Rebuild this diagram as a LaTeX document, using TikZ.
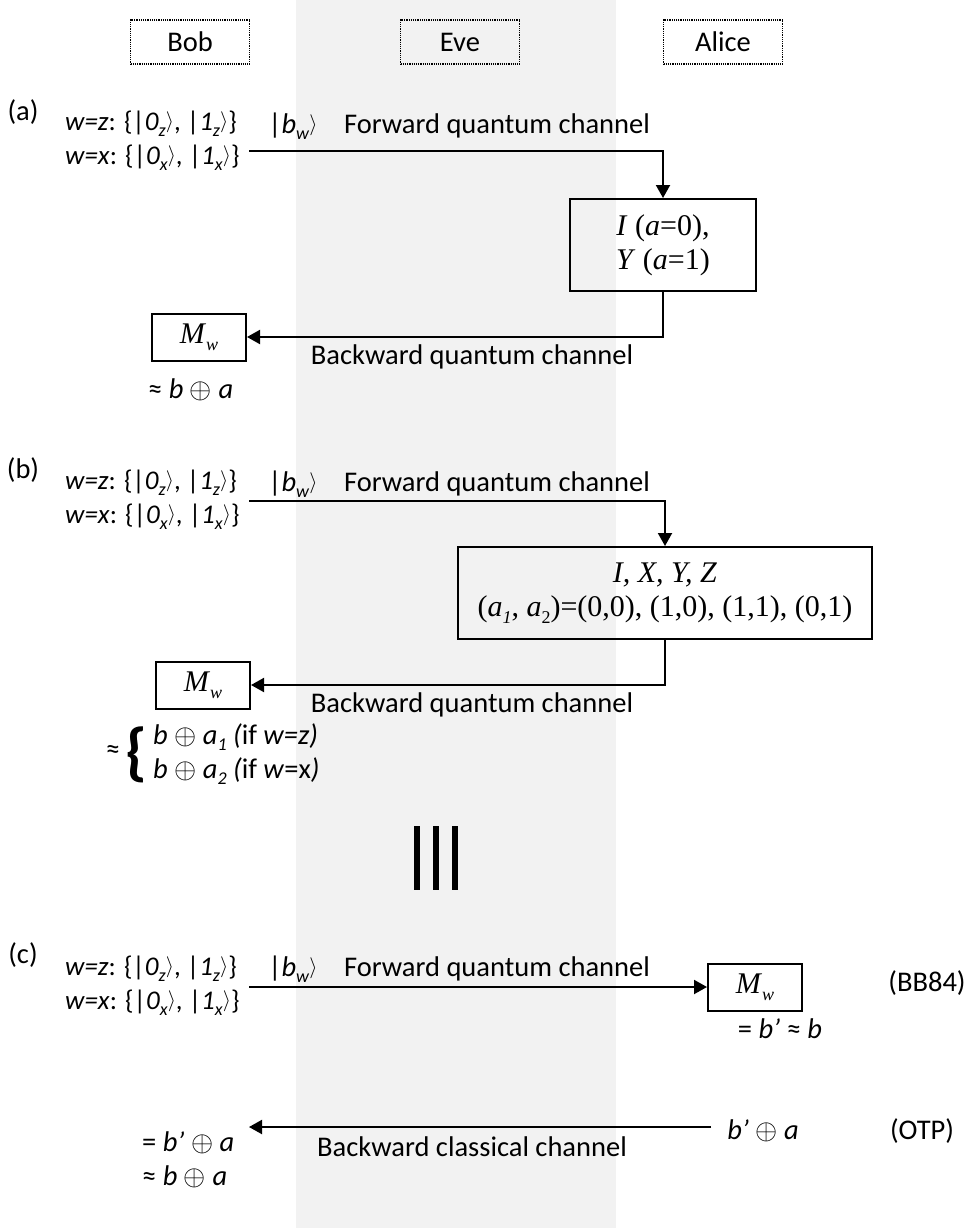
\RequirePackage{fix-cm}
\documentclass[tikz,border=0pt]{standalone}
\usepackage{fontspec}
\setmainfont{Carlito}
\newfontfamily\tnr{Liberation Serif}
\usetikzlibrary{arrows.meta,positioning}
\definecolor{evegray}{HTML}{F2F2F2}

\newcommand{\sbs}[1]{\raisebox{-0.22em}{\fontsize{18}{18}\selectfont #1}}
\newcommand{\kt}{\raisebox{3pt}{\fontsize{21}{21}\selectfont$\rangle$}}
\newcommand{\bases}{\textit{w=z}: \{|\textit{0}\sbs{\textit{z}}\kt, |\textit{1}\sbs{\textit{z}}\kt\}\\
  \textit{w=x}: \{|\textit{0}\sbs{\textit{x}}\kt, |\textit{1}\sbs{\textit{x}}\kt\}}
\newcommand{\ketbw}{|\textit{b}\sbs{\textit{w}}\kt}
\newcommand{\meas}{\textit{M}\sbs{\textit{w}}}

\begin{document}
\begin{tikzpicture}[x=1pt,y=-1pt,
    every node/.style={font=\fontsize{28.5}{34}\selectfont, inner sep=0pt}]
	\tikzstyle{party}
	  =[draw, densely dotted, line width=1.2pt,
	  minimum width=119pt, minimum height=44pt,
	  text height=19pt, text depth=0pt]
	\tikzstyle{opbox}
	  =[draw, line width=2pt, minimum height=92pt,
	  align=center, font=\fontsize{30}{34}\selectfont\tnr]
	\tikzstyle{measbox}
	  =[draw, line width=2pt, minimum width=94pt,
	  minimum height=47pt, font=\fontsize{30}{34}\selectfont\tnr]
	\tikzstyle{twoline}
	  =[align=left, anchor=west]
	\tikzstyle{basis}
	  =[align=left, anchor=west, font=\fontsize{27}{34}\selectfont]
	\tikzstyle{arr}
	  =[line width=2pt, -{Triangle[length=13pt,width=14pt]}]

	\useasboundingbox (0,0) rectangle (971,1228);
	\fill[evegray] (296,0) rectangle (616,1228);

	\node[party] (bob) at (190,42) {Bob};
	\node[party] (eve) at (460,42) {Eve};
	\node[party] (alice) at (723,42) {Alice};

	% (a)
	\node (labA) at (23,112) {(a)};
	\node[basis] (basA) at (65,141) {\bases};
	\node (ketA) at (293,126) {\ketbw};
	\node (fwdA) at (497,126) {Forward quantum channel};
	\coordinate (inA) at (249,151);
	\node[opbox, minimum width=186pt] (opA) at (663,245)
	  {\textit{I} (\textit{a}=0),\\ \textit{Y} (\textit{a}=1)};
	\node[measbox] (measA) at (199,337) {\meas};
	\node (bwdA) at (472,357) {Backward quantum channel};
	\node[anchor=west] (resA) at (148,390)
	  {≈ \textit{b} $\oplus$ \textit{a}};

	\draw[arr] (inA) -| (opA);
	\draw[arr] (opA) |- (measA);

	% (b)
	\node (labB) at (23,470) {(b)};
	\node[basis] (basB) at (65,500) {\bases};
	\node (ketB) at (293,484) {\ketbw};
	\node (fwdB) at (497,484) {Forward quantum channel};
	\coordinate (inB) at (249,501);
	\node[opbox, minimum width=414pt] (opB) at (665,593)
	  {\textit{I, X, Y, Z}\\
	  (\textit{a}\sbs{\textit{1}}, \textit{a}\sbs{2})=(0,0), (1,0), (1,1), (0,1)};
	\node[measbox] (measB) at (203,685) {\meas};
	\node (bwdB) at (472,705) {Backward quantum channel};
	\node (apxB) at (113,752) {≈};
	\node (brB) at (136,755)
	  {\fontsize{64}{64}\selectfont\textbf{\{}};
	\node[twoline] (resB) at (153,754)
	  {\textit{b} $\oplus$ \textit{a}\sbs{\textit{1}} \textit{(}if \textit{w=z)}\\
	  \textit{b} $\oplus$ \textit{a}\sbs{\textit{2}} \textit{(}if \textit{w}=x\textit{)}};

	\draw[arr] (inB) -| (opB);
	\draw[arr] (opB) |- (measB);

	% equivalence
	\foreach \x in {417,436,455}
	  \draw[line width=6pt] (\x,826) -- (\x,890);

	% (c)
	\node (labC) at (23,955) {(c)};
	\node[basis] (basC) at (65,986) {\bases};
	\node (ketC) at (293,969) {\ketbw};
	\node (fwdC) at (497,969) {Forward quantum channel};
	\coordinate (inC) at (249,987);
	\node[measbox] (measC) at (755,987) {\meas};
	\node (resC) at (780,1029) {= \textit{b’} ≈ \textit{b}};
	\node (bb84) at (927,983) {(BB84)};

	\node (sumC) at (763,1131) {\textit{b’} $\oplus$ \textit{a}};
	\node (otp) at (922,1131) {(OTP)};
	\coordinate (srcC) at (711,1127);
	\coordinate (outC) at (249,1127);
	\node (bwdC) at (472,1147) {Backward classical channel};
	\node[twoline] (resC2) at (142,1160)
	  {= \textit{b’} $\oplus$ \textit{a}\\ ≈ \textit{b} $\oplus$ \textit{a}};

	\draw[arr] (inC) -- (measC);
	\draw[arr] (srcC) -- (outC);
\end{tikzpicture}
\end{document}
